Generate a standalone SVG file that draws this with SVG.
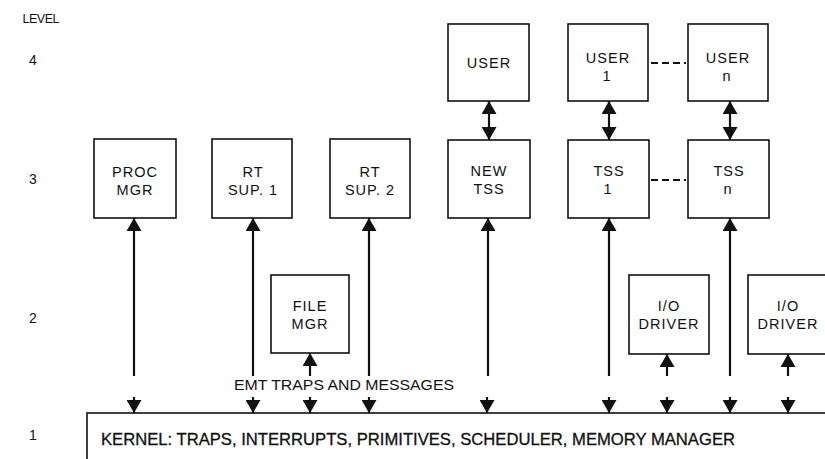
<svg xmlns="http://www.w3.org/2000/svg" width="825" height="459" viewBox="0 0 825 459">
<style>
.box{fill:#fff;stroke:#111;stroke-width:1.6}
.t{font-family:"Liberation Sans",Arial,sans-serif;font-size:14.5px;letter-spacing:1px;fill:#111;text-anchor:middle}
.lv{font-family:"Liberation Sans",Arial,sans-serif;font-size:14px;fill:#111;text-anchor:middle}
.c{stroke:#111;stroke-width:2.2;fill:none}
.d{stroke:#111;stroke-width:2.2;stroke-dasharray:7,4;fill:none}
</style>
<defs>
<marker id="ah" viewBox="0 0 13 15" refX="13" refY="7.5" markerWidth="13" markerHeight="15" markerUnits="userSpaceOnUse" orient="auto-start-reverse">
<path d="M0,0 L13,7.5 L0,15 z" fill="#111"/>
</marker>
</defs>
<g id="levels">
<text class="lv" x="41" y="23" style="font-size:12.5px" textLength="37" lengthAdjust="spacing">LEVEL</text>
<text class="lv" x="33" y="65">4</text>
<text class="lv" x="33" y="184">3</text>
<text class="lv" x="33" y="323">2</text>
<text class="lv" x="33" y="440">1</text>
</g>
<g id="kernel">
<rect class="box" x="87" y="413" width="760" height="60"/>
<text class="t" x="101" y="445" style="text-anchor:start;font-size:16px;letter-spacing:0;stroke:#111;stroke-width:0.3" textLength="634" lengthAdjust="spacingAndGlyphs">KERNEL:  TRAPS, INTERRUPTS, PRIMITIVES, SCHEDULER, MEMORY MANAGER</text>
</g>
<g id="proc-mgr"><rect class="box" x="94" y="139" width="82" height="79"/><text class="t" x="135" y="177">PROC</text><text class="t" x="135" y="195">MGR</text></g>
<g id="rt-sup-1"><rect class="box" x="212" y="139" width="80" height="79"/><text class="t" x="253" y="177">RT</text><text class="t" x="253" y="195">SUP. 1</text></g>
<g id="rt-sup-2"><rect class="box" x="330" y="139" width="80" height="79"/><text class="t" x="370" y="177">RT</text><text class="t" x="370" y="195">SUP. 2</text></g>
<g id="new-tss"><rect class="box" x="448" y="140" width="82" height="78"/><text class="t" x="489" y="176">NEW</text><text class="t" x="489" y="194">TSS</text></g>
<g id="tss-1"><rect class="box" x="568" y="140" width="81" height="78"/><text class="t" x="609" y="176">TSS</text><text class="t" x="608" y="194">1</text></g>
<g id="tss-n"><rect class="box" x="688" y="140" width="81" height="78"/><text class="t" x="729" y="176">TSS</text><text class="t" x="728" y="194">n</text></g>
<g id="user"><rect class="box" x="448" y="24" width="81" height="77"/><text class="t" x="489" y="68">USER</text></g>
<g id="user-1"><rect class="box" x="568" y="24" width="80" height="77"/><text class="t" x="608" y="63">USER</text><text class="t" x="607" y="81">1</text></g>
<g id="user-n"><rect class="box" x="688" y="24" width="80" height="77"/><text class="t" x="728" y="63">USER</text><text class="t" x="727" y="81">n</text></g>
<g id="file-mgr"><rect class="box" x="271" y="275" width="78" height="78"/><text class="t" x="310" y="311">FILE</text><text class="t" x="310" y="329">MGR</text></g>
<g id="io-driver-1"><rect class="box" x="629" y="275" width="80" height="79"/><text class="t" x="669" y="311">I/O</text><text class="t" x="669" y="329">DRIVER</text></g>
<g id="io-driver-2"><rect class="box" x="748" y="275" width="90" height="79"/><text class="t" x="788" y="311">I/O</text><text class="t" x="788" y="329">DRIVER</text></g>
<g id="connectors">
<line class="c" x1="489" y1="101" x2="489" y2="140" marker-start="url(#ah)" marker-end="url(#ah)"/>
<line class="c" x1="609" y1="101" x2="609" y2="140" marker-start="url(#ah)" marker-end="url(#ah)"/>
<line class="c" x1="730" y1="101" x2="730" y2="140" marker-start="url(#ah)" marker-end="url(#ah)"/>
<line class="d" x1="651" y1="63" x2="686" y2="63"/>
<line class="d" x1="651" y1="180" x2="686" y2="180"/>
<line class="c" x1="134" y1="376" x2="134" y2="218" marker-end="url(#ah)"/>
<line class="c" x1="253" y1="376" x2="253" y2="218" marker-end="url(#ah)"/>
<line class="c" x1="369" y1="376" x2="369" y2="218" marker-end="url(#ah)"/>
<line class="c" x1="488" y1="376" x2="488" y2="218" marker-end="url(#ah)"/>
<line class="c" x1="609" y1="376" x2="609" y2="218" marker-end="url(#ah)"/>
<line class="c" x1="730" y1="376" x2="730" y2="218" marker-end="url(#ah)"/>
<line class="c" x1="310" y1="376" x2="310" y2="353" marker-end="url(#ah)"/>
<line class="c" x1="667" y1="376" x2="667" y2="354" marker-end="url(#ah)"/>
<line class="c" x1="788" y1="376" x2="788" y2="354" marker-end="url(#ah)"/>
<line class="c" x1="134" y1="397" x2="134" y2="413" marker-end="url(#ah)"/>
<line class="c" x1="253" y1="397" x2="253" y2="413" marker-end="url(#ah)"/>
<line class="c" x1="310" y1="397" x2="310" y2="413" marker-end="url(#ah)"/>
<line class="c" x1="369" y1="397" x2="369" y2="413" marker-end="url(#ah)"/>
<line class="c" x1="487" y1="397" x2="487" y2="413" marker-end="url(#ah)"/>
<line class="c" x1="609" y1="397" x2="609" y2="413" marker-end="url(#ah)"/>
<line class="c" x1="667" y1="397" x2="667" y2="413" marker-end="url(#ah)"/>
<line class="c" x1="730" y1="397" x2="730" y2="413" marker-end="url(#ah)"/>
<line class="c" x1="788" y1="397" x2="788" y2="413" marker-end="url(#ah)"/>
<text class="t" x="234" y="390" style="text-anchor:start;letter-spacing:0;font-size:15px" textLength="220" lengthAdjust="spacingAndGlyphs">EMT TRAPS AND MESSAGES</text>
</g>
</svg>
